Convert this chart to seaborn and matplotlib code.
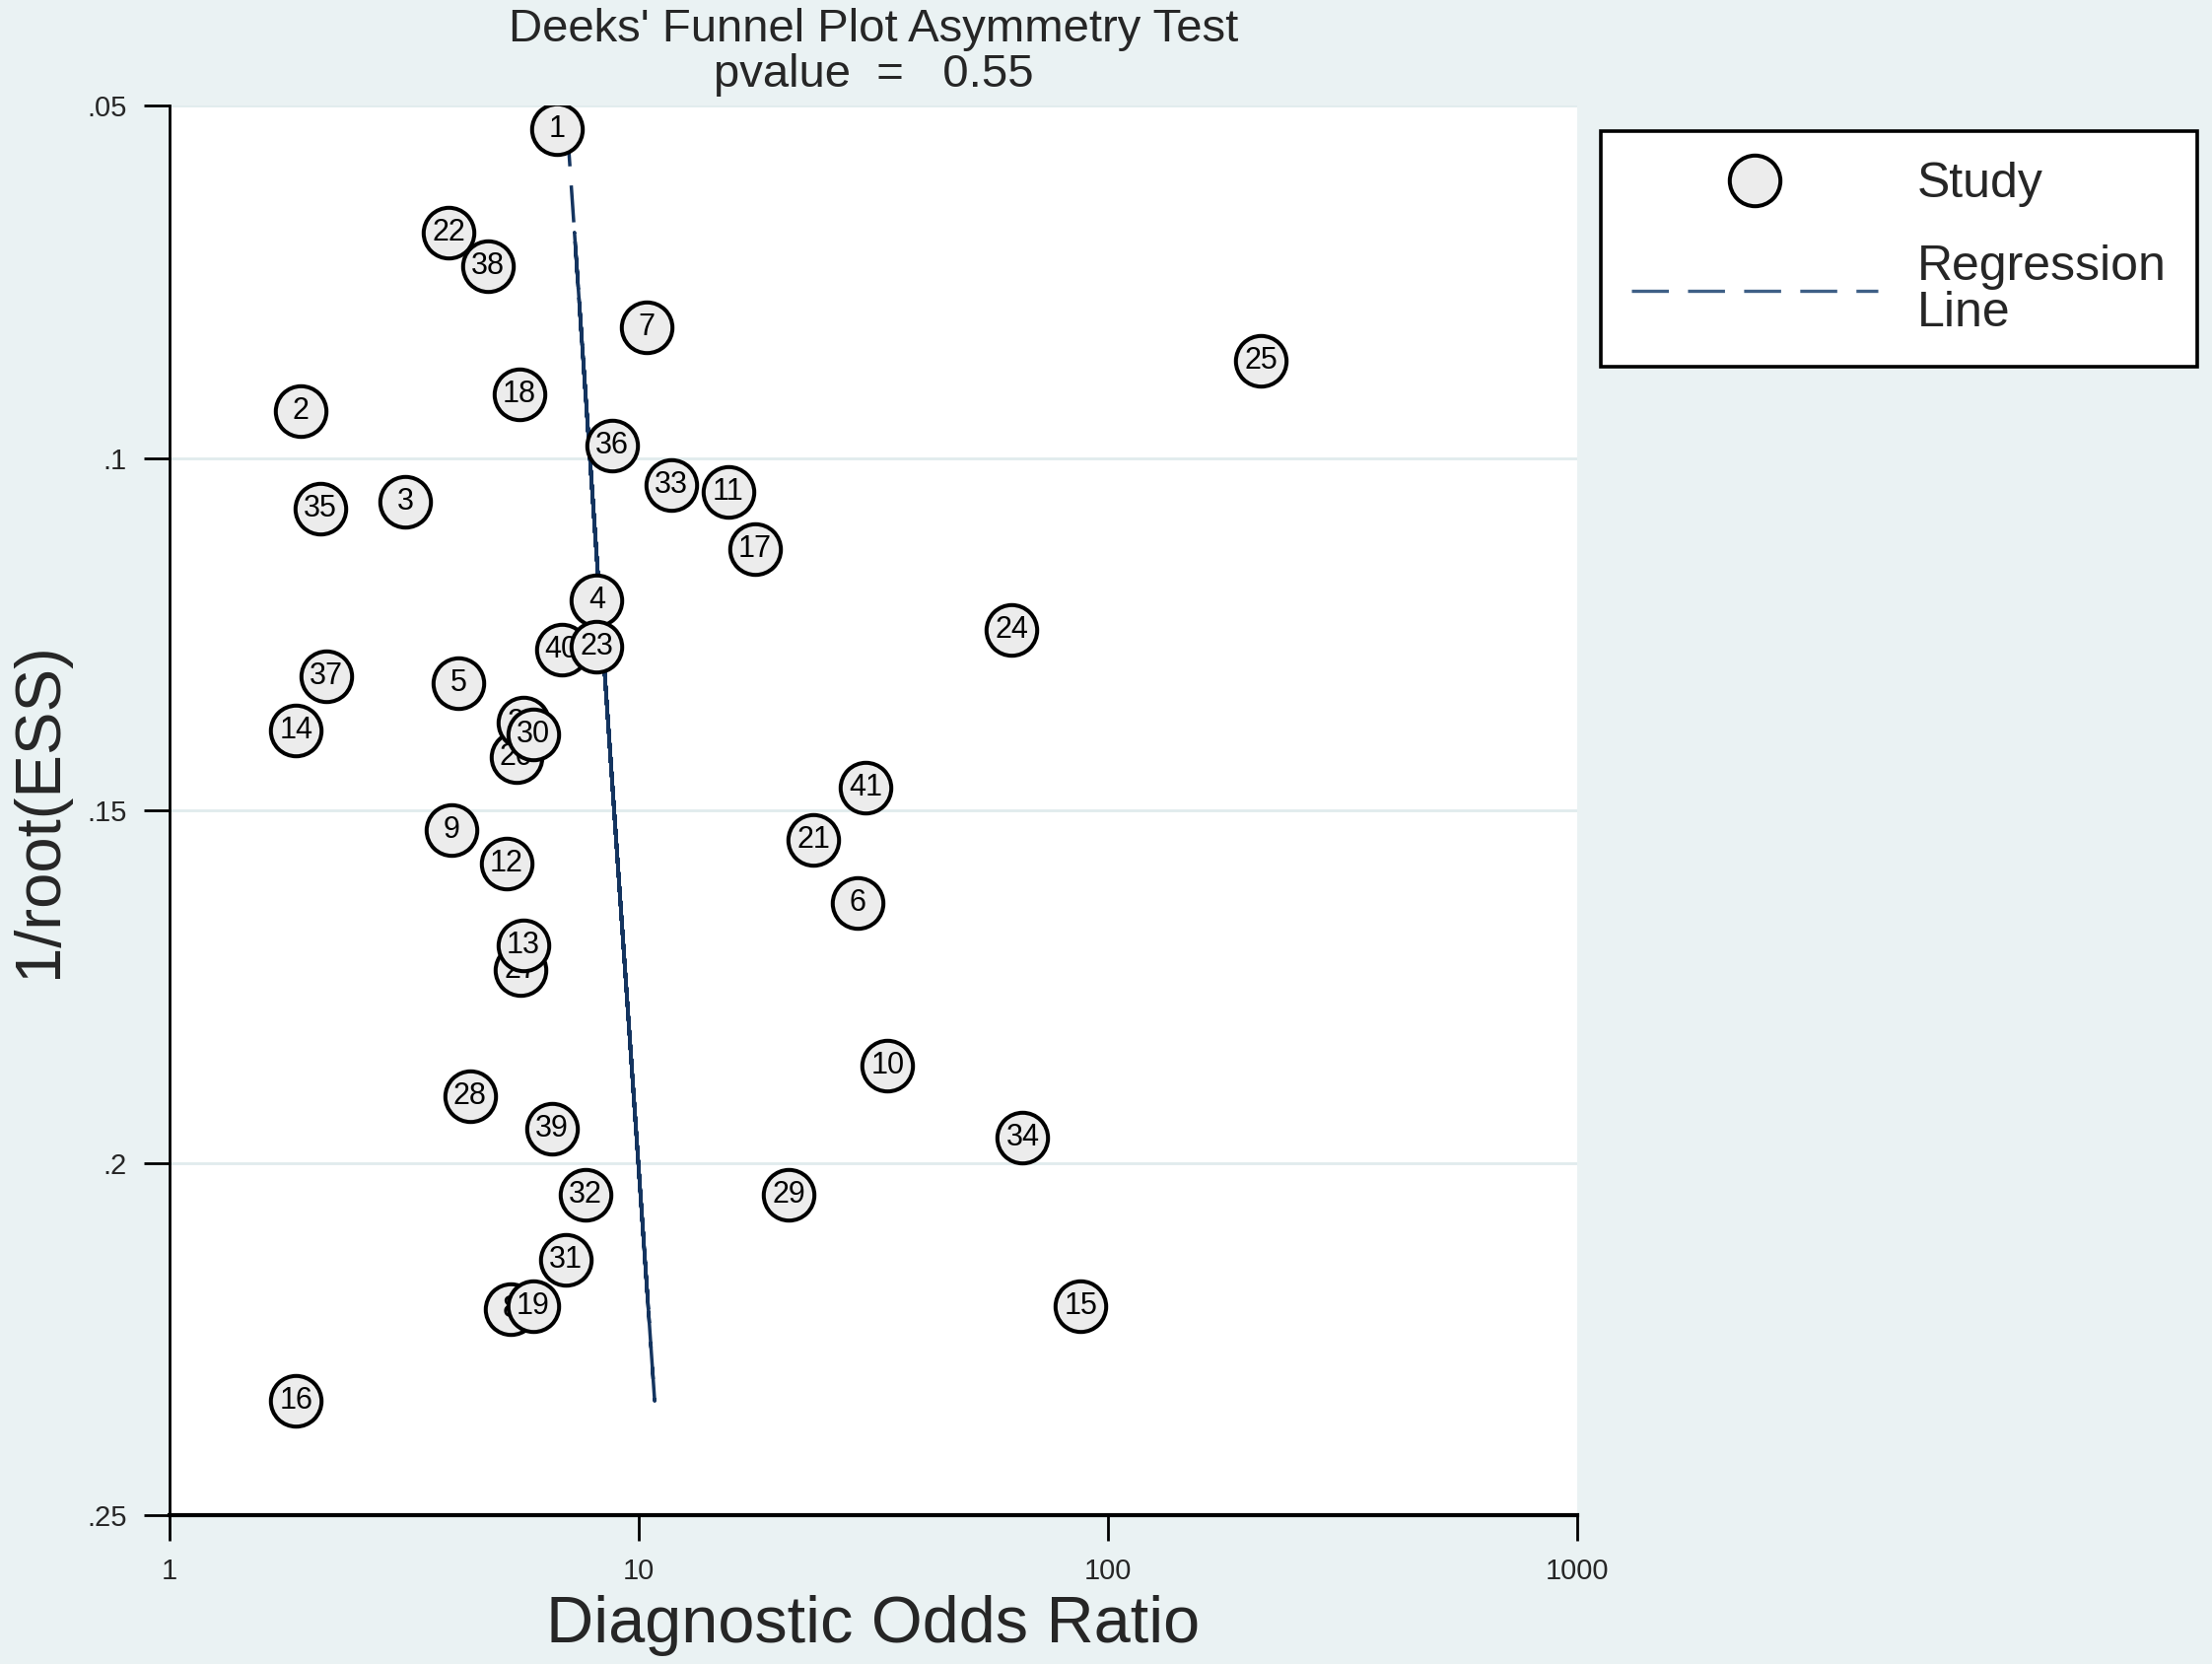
import numpy as np
import matplotlib
matplotlib.use("Agg")
import matplotlib.pyplot as plt
from matplotlib.lines import Line2D
import seaborn as sns

# study data
study = list(range(1, 42))
dor = [6.71, 1.90, 3.18, 8.14, 4.13, 29.3, 10.4, 5.34, 3.99, 33.9,
       15.5, 5.23, 5.68, 1.86, 87.4, 1.86, 17.7, 5.56, 5.96, 5.49,
       23.6, 3.94, 8.14, 62.3, 212.0, 5.68, 5.60, 4.37, 20.9, 5.96,
       7.00, 7.70, 11.75, 65.8, 2.10, 8.79, 2.16, 4.78, 6.53, 6.85, 30.5]
inv_root_ess = [0.0534, 0.0934, 0.1062, 0.1202, 0.1320, 0.1632, 0.0814, 0.2208, 0.1528, 0.1862,
                0.1048, 0.1576, 0.1692, 0.1386, 0.2204, 0.2338, 0.1130, 0.0910, 0.2204, 0.1424,
                0.1542, 0.0680, 0.1268, 0.1244, 0.0862, 0.1376, 0.1726, 0.1906, 0.2046, 0.1392,
                0.2138, 0.2046, 0.1038, 0.1964, 0.1072, 0.0982, 0.1310, 0.0728, 0.1952, 0.1272, 0.1468]

# Deeks regression: ln(DOR) = a + b * 1/root(ESS)
reg_a = 1.826
reg_b = 2.374
pvalue = 0.55

yticks = [0.05, 0.1, 0.15, 0.2, 0.25]
ytick_labels = [".05", ".1", ".15", ".2", ".25"]
xticks = [1, 10, 100, 1000]
xtick_labels = ["1", "10", "100", "1000"]

sns.set_theme(style="white")
plt.rcParams["font.family"] = ["Liberation Sans", "DejaVu Sans"]
plt.rcParams["lines.scale_dashes"] = False

bg = "#EAF2F3"
navy = "#14345F"
fill = "#ECECEC"

fig = plt.figure(figsize=(22.44, 16.88), dpi=100, facecolor=bg)
ax = fig.add_axes([0.0766, 0.0894, 0.6364, 0.8472])
ax.set_facecolor("white")

fitted = np.exp(reg_a + reg_b * np.array(inv_root_ess))
sns.lineplot(x=fitted, y=inv_root_ess, sort=False, estimator=None, ax=ax,
             color=navy, linewidth=2.5, linestyle=(0, (27, 14)), zorder=2)

# markers and labels drawn one study at a time, left to right
order = np.argsort(dor, kind="stable")
for k, i in enumerate(order):
    sns.scatterplot(x=[dor[i]], y=[inv_root_ess[i]], ax=ax, s=1370, marker="o",
                    color=fill, edgecolor="black", linewidth=2.9, zorder=3 + 2 * k,
                    legend=False)
    ax.text(dor[i], inv_root_ess[i], str(study[i]), ha="center", va="center",
            fontsize=22, color="black", zorder=4 + 2 * k)

ax.set_xscale("log")
ax.set_xlim(1, 1000)
ax.set_ylim(0.25, 0.05)
ax.set_xticks(xticks)
ax.set_xticklabels(xtick_labels)
ax.xaxis.set_minor_locator(matplotlib.ticker.NullLocator())
ax.set_yticks(yticks)
ax.set_yticklabels(ytick_labels)

ax.yaxis.grid(True, color="#E0EBED", linewidth=2)
ax.xaxis.grid(False)
ax.set_axisbelow(True)

for side in ["top", "right"]:
    ax.spines[side].set_visible(False)
ax.spines["left"].set_linewidth(2)
ax.spines["bottom"].set_linewidth(3)
ax.spines["left"].set_color("black")
ax.spines["bottom"].set_color("black")
ax.tick_params(axis="both", which="major", direction="out", length=19, width=2,
               color="black", labelsize=21, pad=12, left=True, bottom=True)

ax.set_xlabel("Diagnostic Odds Ratio", fontsize=48)
ax.xaxis.label.set_va("center")
ax.xaxis.set_label_coords(0.5, -0.078)
ax.set_ylabel("1/root(ESS)", fontsize=47)
ax.yaxis.label.set_va("center")
ax.yaxis.set_label_coords(-0.0924, 0.5)

fig.text(0.3948, 0.9822, "Deeks' Funnel Plot Asymmetry Test", ha="center", va="center", fontsize=34)
fig.text(0.3948, 0.9550, "pvalue  =   %.2f" % pvalue, ha="center", va="center", fontsize=34)

handles = [
    Line2D([], [], marker="o", linestyle="none", markersize=37, markerfacecolor=fill,
           markeredgecolor="black", markeredgewidth=2.9),
    Line2D([], [], color="#3E5F86", linewidth=2.4, linestyle=(0, (27, 14))),
]
leg = fig.legend(handles, ["Study", "Regression\nLine"], loc="upper left",
                 bbox_to_anchor=(1624 / 2244, 1 - 133 / 1688), fontsize=36,
                 frameon=True, fancybox=False, borderpad=0.62, borderaxespad=0,
                 handlelength=5.0, handletextpad=0.8, labelspacing=0.75)
for t in leg.get_texts():
    t.set_linespacing(1.05)
frame = leg.get_frame()
frame.set_edgecolor("black")
frame.set_linewidth(2.6)
frame.set_facecolor("white")
frame.set_alpha(1)

fig.savefig("out.png", dpi=100, facecolor=bg)
